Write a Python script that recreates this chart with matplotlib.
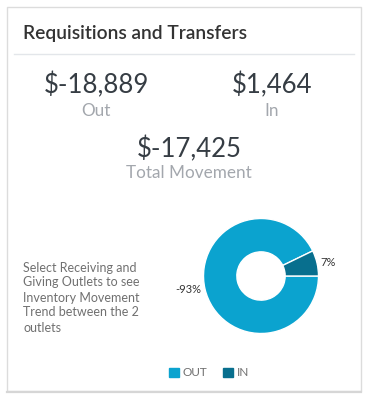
import matplotlib.pyplot as plt
from matplotlib.patches import Rectangle, Patch
from matplotlib.lines import Line2D

# values
categories = ['OUT', 'IN']
amounts = [-18889, 1464]
total_movement = -17425
colors = ['#0ba3cf', '#086f8e']
note = 'Select Receiving and\nGiving Outlets to see\nInventory Movement\nTrend between the 2\noutlets'

W, H = 369, 399
fig = plt.figure(figsize=(W / 100, H / 100), dpi=100)
fig.patch.set_facecolor('white')

# full-figure axes in pixel coords for the card layout
bg = fig.add_axes([0, 0, 1, 1])
bg.set_xlim(0, W)
bg.set_ylim(H, 0)
bg.axis('off')

bg.add_patch(Rectangle((7, 7), 354, 384, facecolor='white', edgecolor='#dcdcdc', linewidth=1))
bg.add_line(Line2D([7, 361], [391.5, 391.5], color='#d6d6d6', linewidth=1.6))
bg.add_line(Line2D([14, 354], [54, 54], color='#e3e6ea', linewidth=1))

bg.text(23, 33, 'Requisitions and Transfers', fontsize=13.8, fontweight='semibold',
        family='Lato', color='#333333', va='center', ha='left')


def money(v):
    return '$' + format(v, ',')


big = dict(fontsize=18.5, family='Lato', color='#363d44', ha='center', va='center')
small = dict(fontsize=12.3, family='Lato', color='#a3a7ad', ha='center', va='center')
bg.text(96, 85, money(amounts[0]), **big)
bg.text(96, 111, 'Out', **small)
bg.text(272, 85, money(amounts[1]), **big)
bg.text(272, 111, 'In', **small)
bg.text(189, 149, money(total_movement), **big)
bg.text(189, 173, 'Total Movement', **small)

bg.text(23, 297.5, note, fontsize=9, family='Lato', color='#707070',
        ha='left', va='center', linespacing=1.3)

# donut
cx, cy, r = 261, 276, 57.5
pax = fig.add_axes([(cx - r) / W, 1 - (cy + r) / H, 2 * r / W, 2 * r / H])
sizes = [abs(a) for a in amounts]
tot = sum(sizes)
labels = ['%d%%' % round(a / tot * 100) for a in amounts]
wedges, texts = pax.pie(sizes, colors=colors, startangle=0, counterclock=False,
                        labels=labels, labeldistance=1.06,
                        wedgeprops=dict(width=0.58, edgecolor='white', linewidth=1),
                        textprops=dict(fontsize=8, family='Lato', color='#333333'))
pax.set_xlim(-1, 1)
pax.set_ylim(-1, 1)
pax.set_aspect('equal')
pax.axis('off')

handles = [Patch(facecolor=c, edgecolor=c) for c in colors]
leg = fig.legend(handles, categories, loc='center', bbox_to_anchor=(209 / W, 1 - 373 / H),
                 ncol=2, frameon=False, handlelength=0.85, handleheight=0.85,
                 handletextpad=0.3, columnspacing=1.4,
                 prop=dict(family='Lato', size=8.5))
for t in leg.get_texts():
    t.set_color('#6e6e6e')

fig.savefig('out.png', dpi=100)
